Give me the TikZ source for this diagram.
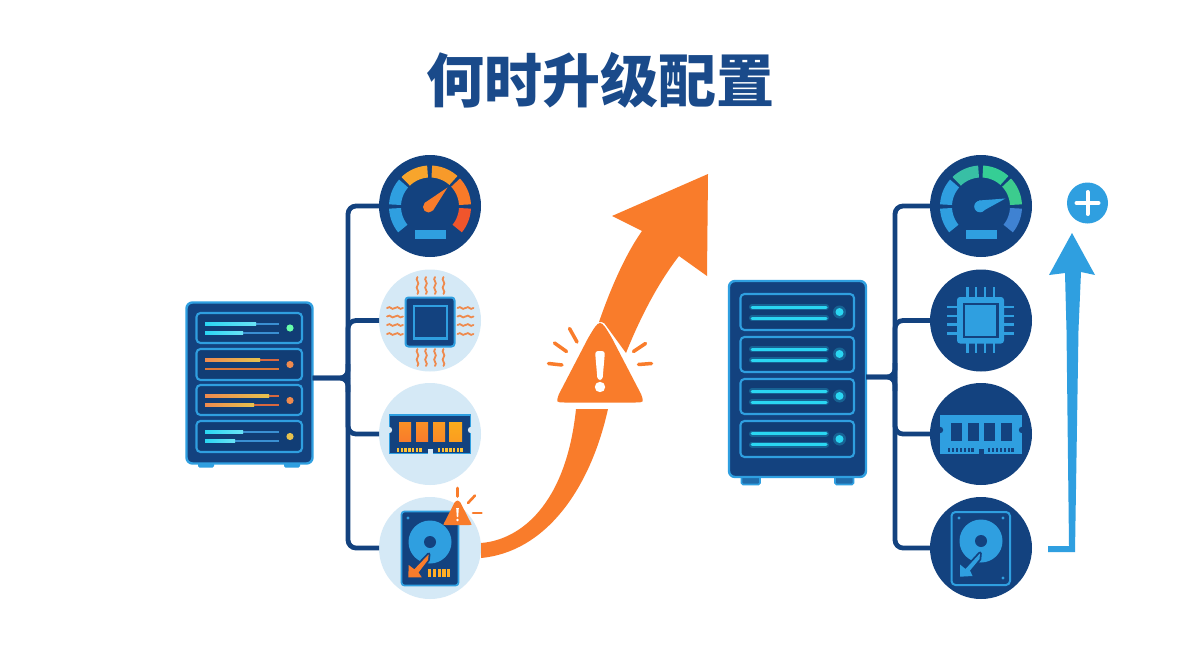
\documentclass[tikz,border=0pt]{standalone}
\usepackage{fontspec}
\newfontfamily\cjk{Noto Sans CJK SC}
\usetikzlibrary{calc}
\definecolor{navy}{HTML}{13427F}
\definecolor{titleblue}{HTML}{1A4A8A}
\definecolor{skyb}{HTML}{2F9FE0}
\definecolor{pale}{HTML}{D5E9F6}
\definecolor{signal}{HTML}{F97C2B}
\definecolor{heat}{HTML}{EE8A4E}
\definecolor{cyanlit}{HTML}{2AD6F2}
\definecolor{dimbar}{HTML}{3A8FD2}
\definecolor{amberbar}{HTML}{E6C24E}
\definecolor{rustbar}{HTML}{D9683F}
\definecolor{gaugeA}{HTML}{F8A52C}
\definecolor{gaugeB}{HTML}{F89A2A}
\definecolor{gaugeC}{HTML}{F97A28}
\definecolor{gaugeD}{HTML}{F0552C}
\definecolor{gaugeE}{HTML}{38BFA5}
\definecolor{gaugeF}{HTML}{35CE95}
\definecolor{gaugeG}{HTML}{3CCC8E}
\definecolor{gaugeH}{HTML}{3F82D2}
\tikzset{
  disc/.style={circle,minimum size=102pt,inner sep=0pt,outer sep=0pt,fill=#1},
  cabinet/.style={rounded corners=6pt,fill=navy,draw=skyb,line width=2.4pt,inner sep=0pt,outer sep=0pt},
  bay/.style={rounded corners=4pt,fill=navy!92!black,draw=skyb,line width=2.1pt},
  foot/.style={rounded corners=1.5pt,fill=skyb},
  bus/.style={draw=navy,line width=4.8pt,rounded corners=8pt},
  ray/.style={draw=signal,line width=3.5pt,line cap=round},
  wave/.style={draw=heat,line width=1.8pt,line cap=round},
  pin/.style={draw=skyb,line width=2.4pt},
}
% One band of a speedometer scale, angles measured counter-clockwise from east
\newcommand{\gaugeband}[5]{%
  \fill[#5] plot[domain=#3:#4,samples=14] ({#1+41*cos(\x)},{#2-41*sin(\x)})
    -- plot[domain=#4:#3,samples=14] ({#1+29*cos(\x)},{#2-29*sin(\x)}) -- cycle;}
\newcommand{\heatv}[2]{\draw[wave] (#1,#2) .. controls +(-3,3) and +(3,-3) .. ++(0,8.5) .. controls +(-3,3) and +(3,-3) .. ++(0,8.5);}
\newcommand{\heath}[2]{\draw[wave] (#1,#2) .. controls +(4,-3) and +(-4,3) .. ++(8,0) .. controls +(4,-3) and +(-4,3) .. ++(8,0);}
\begin{document}
\begin{tikzpicture}[x=1pt,y=-1pt]
\useasboundingbox (0,0) rectangle (1200,669);
\fill[white] (0,0) rectangle (1200,669);

\node[text=titleblue,font=\cjk\bfseries\fontsize{58}{58}\selectfont,inner sep=0pt] (title) at (600,80) {何时升级配置};

% ---- icon discs ----
\node[disc=navy] (gaugeL) at (430,206) {};
\node[disc=pale] (cpuL)   at (430,320.5) {};
\node[disc=pale] (ramL)   at (430,434) {};
\node[disc=pale] (hddL)   at (430,548) {};
\node[disc=navy] (gaugeR) at (981,206) {};
\node[disc=navy] (cpuR)   at (981,320.5) {};
\node[disc=navy] (ramR)   at (981,434) {};
\node[disc=navy] (hddR)   at (981,548) {};

% ---- left cabinet ----
\fill[foot] (198,460) rectangle (214,467.5);
\fill[foot] (284,460) rectangle (300,467.5);
\node[cabinet,minimum width=126pt,minimum height=161pt] (srvL) at (249.5,383) {};
\foreach \ya/\yb in {313/343,349/380,385/415,421/452}
  \draw[bay] (196.5,\ya) rectangle (302,\yb);
% status bars of the four bays
\fill[dimbar] (205,322.8) rectangle (279,325.4);
\fill[dimbar] (205,331.8) rectangle (279,334.4);
\shade[left color=cyanlit,right color=cyanlit!70!white] (205,322.6) rectangle (256,325.6);
\shade[left color=cyanlit,right color=cyanlit!70!white] (205,331.6) rectangle (243,334.6);
\fill[green!55!cyan!60!white] (290,328) circle[radius=3.6];
\fill[rustbar] (205,358.8) rectangle (279,361.4);
\fill[rustbar!90!yellow] (205,367.8) rectangle (279,370.4);
\shade[left color=heat,right color=amberbar] (205,358.6) rectangle (260,361.6);
\fill[heat] (290,364.5) circle[radius=3.6];
\fill[rustbar] (205,394.8) rectangle (279,397.4);
\fill[rustbar] (205,403.8) rectangle (279,406.4);
\shade[left color=heat,right color=amberbar] (205,394.6) rectangle (269,397.6);
\shade[left color=heat,right color=amberbar] (205,403.6) rectangle (254,406.6);
\fill[heat] (290,400.5) circle[radius=3.6];
\fill[dimbar] (205,430.8) rectangle (279,433.4);
\fill[dimbar] (205,439.8) rectangle (279,442.4);
\shade[left color=cyanlit,right color=cyanlit!70!white] (205,430.6) rectangle (243,433.6);
\shade[left color=cyanlit,right color=cyanlit!70!white] (205,439.6) rectangle (235,442.6);
\fill[amberbar] (290,436.5) circle[radius=3.6];

% ---- right cabinet ----
\draw[foot,fill=navy!55!skyb,draw=skyb,line width=1.6pt] (741.5,474) rectangle (760,484.5);
\draw[foot,fill=navy!55!skyb,draw=skyb,line width=1.6pt] (835,474) rectangle (853.5,484.5);
\node[cabinet,minimum width=137pt,minimum height=196pt] (srvR) at (797.5,379) {};
\foreach \ya/\yb/\yu/\yl/\yd in {294/330/307/318/312,337/372/349/360/354,379/414/391/402/396,421/457/433.5/444.5/439}{
  \draw[bay] (740.5,\ya) rectangle (854,\yb);
  \draw[cyanlit,opacity=.25,line width=6pt,line cap=round] (752,\yu) -- (826,\yu) (752,\yl) -- (826,\yl);
  \draw[cyanlit,line width=3pt,line cap=round] (752,\yu) -- (826,\yu) (752,\yl) -- (826,\yl);
  \fill[cyanlit,opacity=.25] (839.5,\yd) circle[radius=6.5];
  \fill[cyanlit] (839.5,\yd) circle[radius=4];
}

% ---- connectors ----
\coordinate (trunkL) at (348,378);
\draw[bus] (gaugeL.west) -| (trunkL);
\draw[bus] (hddL.west) -| (trunkL);
\draw[bus] (cpuL.west) -| (trunkL);
\draw[bus] (ramL.west) -| (trunkL);
\draw[bus] (srvL.east |- trunkL) -| ($(trunkL)+(0,-14)$);
\draw[bus] (srvL.east |- trunkL) -| ($(trunkL)+(0,14)$);
\coordinate (trunkR) at (895,377);
\draw[bus] (gaugeR.west) -| (trunkR);
\draw[bus] (hddR.west) -| (trunkR);
\draw[bus] (cpuR.west) -| (trunkR);
\draw[bus] (ramR.west) -| (trunkR);
\draw[bus] (srvR.east |- trunkR) -| ($(trunkR)+(0,-14)$);
\draw[bus] (srvR.east |- trunkR) -| ($(trunkR)+(0,14)$);

% ---- left speedometer ----
\gaugeband{430}{206.5}{183}{219}{skyb}
\gaugeband{430}{206.5}{177}{139}{skyb}
\gaugeband{430}{206.5}{134}{94}{gaugeA}
\gaugeband{430}{206.5}{87}{48}{gaugeB}
\gaugeband{430}{206.5}{43}{3}{gaugeC}
\gaugeband{430}{206.5}{-3}{-39}{gaugeD}
\fill[signal,line join=round] (447.5,187.5) -- (433,210.5) -- (424.5,203) -- cycle;
\fill[signal] (428.5,207) circle[radius=5.5];
\fill[skyb] (414.5,229.5) rectangle (445.5,239);

% ---- right speedometer ----
\gaugeband{981}{206.5}{183}{219}{skyb}
\gaugeband{981}{206.5}{177}{139}{skyb}
\gaugeband{981}{206.5}{134}{94}{gaugeE}
\gaugeband{981}{206.5}{87}{48}{gaugeF}
\gaugeband{981}{206.5}{43}{3}{gaugeG}
\gaugeband{981}{206.5}{-3}{-39}{gaugeH}
\fill[skyb,line join=round] (1005.5,198.5) -- (981,212) -- (979,200.5) -- cycle;
\fill[skyb] (980,206.5) circle[radius=5.8];
\fill[skyb] (965.5,229.5) rectangle (996.5,239);

% ---- left chip with heat ripples ----
\draw[skyb,fill=navy,line width=2pt,rounded corners=3pt] (405.5,297.5) rectangle (454.5,346.5);
\draw[skyb,line width=2.6pt] (414,306) rectangle (447,338.5);
\foreach \px in {417.5,426,435,443.5}{\heatv{\px}{277}\heatv{\px}{349}}
\foreach \py in {308,316.5,325,334}{\heath{387}{\py}\heath{457.5}{\py}}

% ---- right chip ----
\foreach \px in {967.3,976,985,994}\draw[pin] (\px,287) -- (\px,353);
\foreach \py in {306.7,315.7,324.3,333.3}\draw[pin] (947,\py) -- (1014,\py);
\fill[skyb,rounded corners=3pt] (957,297) rectangle (1004,343.5);
\draw[navy,line width=2.2pt] (964,304) rectangle (997.5,337);

% ---- left memory module ----
\draw[skyb,fill=navy,line width=1.4pt] (389.5,415) rectangle (470.5,453.5);
\fill[pale] (389,430) circle[radius=3.2] (471,430) circle[radius=3.2];
\fill[pale] (427.5,449) rectangle (432.5,455);
\foreach \xa/\xb/\tint in {399/411/signal,416/428/signal,433/445/signal!90!yellow,449/462/signal!75!yellow}
  \shade[top color=\tint!85!yellow,bottom color=\tint] (\xa,422) rectangle (\xb,441);
\foreach \cx in {397,400.7,404.4,408.1,411.8,415.5,419.2,438,441.7,445.4,449.1,452.8,456.5,460.2}
  \fill[orange!60!yellow!80!white] (\cx,447.5) rectangle (\cx+2.4,451.5);

% ---- right memory module ----
\fill[skyb] (940,414.5) rectangle (1022,454);
\fill[navy] (940,430) circle[radius=3.2] (1022,430) circle[radius=3.2];
\fill[navy] (978.5,449) rectangle (983.5,455);
\foreach \xa in {951,967.5,984,1000.5}
  \fill[navy] (\xa,422.5) rectangle (\xa+11,441);
\foreach \cx in {948,951.9,955.8,959.7,963.6,967.5,971.4,988,991.9,995.8,999.7,1003.6,1007.5,1011.4}
  \fill[navy] (\cx,447.5) rectangle (\cx+2.3,451.5);

% ---- left drive ----
\draw[skyb,fill=navy,line width=1.8pt,rounded corners=3pt] (401.5,511.5) rectangle (458.5,585.5);
\fill[skyb] (430,542) circle[radius=21.5];
\fill[navy] (430,542) circle[radius=6];
\fill[skyb] (408,518) circle[radius=1.6];
\draw[navy,line width=3.6pt,line join=round]
  (428.7,554.3) -- (428,560) -- (418.5,572.5) -- (421.7,577.3) -- (408.3,577.3) -- (408.7,565) -- (414.3,569.3) -- cycle;
\fill[signal,line join=round]
  (428.7,554.3) -- (428,560) -- (418.5,572.5) -- (421.7,577.3) -- (408.3,577.3) -- (408.7,565) -- (414.3,569.3) -- cycle;
\foreach \cx in {428,432.8,437.6,442.4,447.2}
  \fill[orange!75!yellow!85!white] (\cx,568.5) rectangle (\cx+3.2,577);
% warning badge on the drive
\fill[signal] (445.5,525) .. controls (443,525) .. (444.2,522.8) -- (454.7,502.3)
  .. controls (457.5,500) .. (460.3,502.3) -- (470.8,522.8) .. controls (472,525) .. (469.5,525) -- cycle;
\fill[white] (456.2,508) -- (458.8,508) -- (458.2,517) -- (456.8,517) -- cycle;
\fill[white] (457.5,520) circle[radius=1.4];
\draw[ray,line width=2.6pt] (457.5,488) -- (457.5,496.5);
\draw[ray,line width=2.6pt] (468,503) -- (475,495.5);
\draw[ray,line width=2.6pt] (473,513) -- (481.5,513);

% ---- right drive ----
\draw[skyb,line width=2pt,rounded corners=4pt] (951.5,512) rectangle (1010,585);
\fill[skyb] (981,541) circle[radius=21.5];
\fill[navy] (981,541) circle[radius=6];
\fill[skyb] (959,518) circle[radius=1.6] (1003,518) circle[radius=1.6] (1003,578) circle[radius=1.6];
\draw[navy,line width=3.6pt,line join=round]
  (980,553.3) -- (979.5,559) -- (970,570.5) -- (972.5,576) -- (960,576.7) -- (960,564.5) -- (965.5,569) -- cycle;
\fill[skyb,line join=round]
  (980,553.3) -- (979.5,559) -- (970,570.5) -- (972.5,576) -- (960,576.7) -- (960,564.5) -- (965.5,569) -- cycle;

% ---- rising warning arrow ----
\coordinate (riseA) at ($(hddL.east)+(0,-5)$);
\coordinate (riseB) at ($(hddL.east)+(0,10)$);
\fill[signal] (riseA) .. controls (520,540) and (566,505) .. (576,409) -- (608,409)
  .. controls (590,490) and (545,552) .. (riseB) -- cycle;
\fill[signal,line join=round] (708,174) -- (707,276) -- (679,256)
  .. controls (658,283) and (640,318) .. (626,353) -- (604.5,323.5)
  .. controls (603,322) and (601,322) .. (599,322)
  .. controls (610,290) and (625,255) .. (642,231) -- (612,216) -- cycle;
\fill[signal] (565,402.5) .. controls (556,402.5) .. (559,394) -- (588.1,338.1)
  .. controls (600,318) .. (611.9,338.1) -- (641,394) .. controls (644,402.5) .. (635,402.5) -- cycle;
\fill[white,rounded corners=3pt] (595,351) -- (605,351) -- (602.5,380) -- (597.5,380) -- cycle;
\fill[white] (600,387) circle[radius=5.2];
\draw[ray] (569.5,328.5) -- (577,342);
\draw[ray] (554.5,343) -- (566.5,351.5);
\draw[ray] (548.5,363.5) -- (562,365);
\draw[ray] (645.5,343.5) -- (633.5,351.5);
\draw[ray] (638.5,364.5) -- (651.5,363.5);

% ---- upgrade arrow with plus badge ----
\fill[skyb,line join=round] (1048,546) -- (1069,546) -- (1066.5,330) -- (1065,273) -- (1049,275) -- (1072,233)
  -- (1095,275) -- (1081,272) -- (1078.5,330) -- (1075,552) -- (1048,552) -- cycle;
\node[disc=skyb,minimum size=41pt] (plusbadge) at (1087.5,203) {};
\draw[white,line width=4pt,line cap=round] ($(plusbadge)+(-11,0)$) -- ($(plusbadge)+(11,0)$);
\draw[white,line width=4pt,line cap=round] ($(plusbadge)+(0,-11)$) -- ($(plusbadge)+(0,11)$);
\end{tikzpicture}
\end{document}
